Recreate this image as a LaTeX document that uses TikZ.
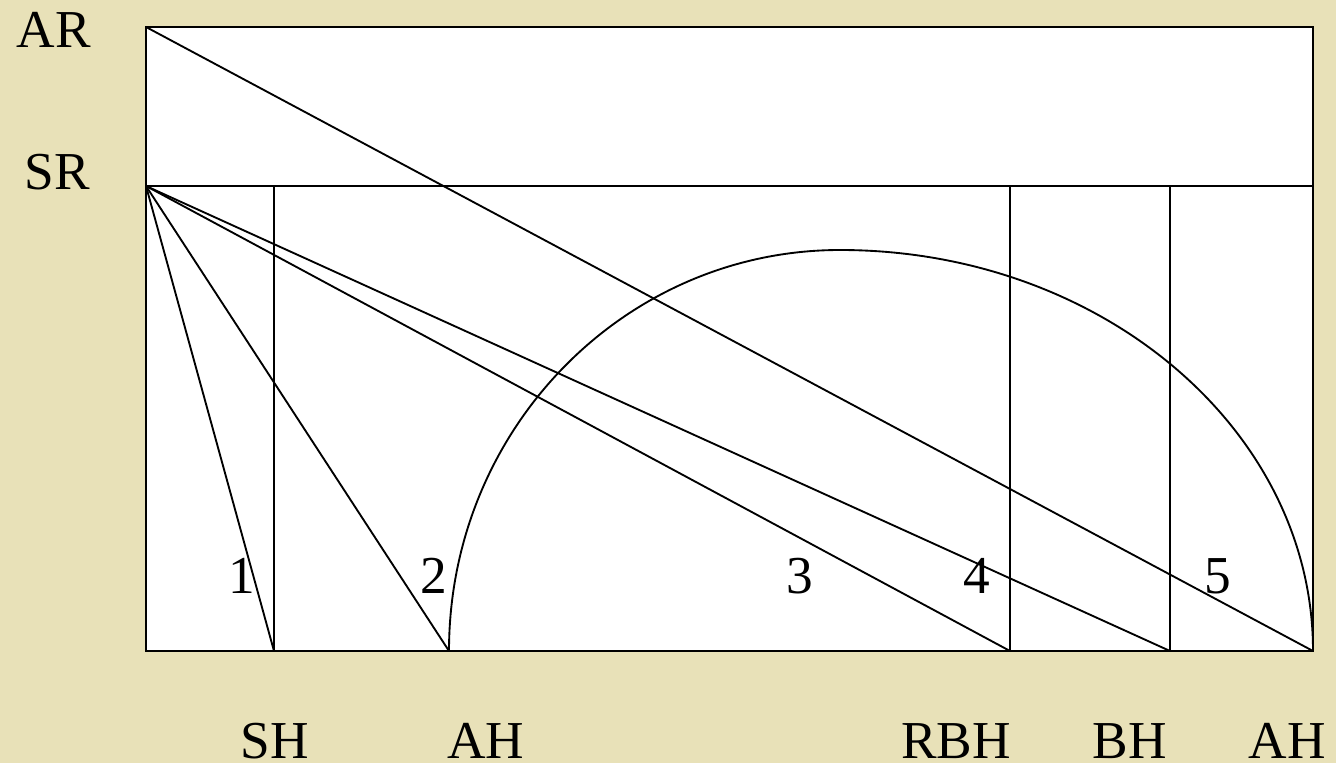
\documentclass[tikz,border=0pt]{standalone}
\usepackage{fontspec}
\setmainfont{Liberation Serif}
\usetikzlibrary{positioning}

\definecolor{parchment}{HTML}{E8E1B8}

\begin{document}
\begin{tikzpicture}
[
    x=0.75pt,
    y=-0.75pt,
    font=\fontsize{40}{48}\selectfont,
    edge/.style={
        draw=black,
        line width=1.4pt
    },
    lbl/.style={
        inner sep=0pt,
        anchor=base
    }
]


% =====================
% BACKGROUND
% =====================

\fill[parchment] (0,0) rectangle (1336,763);
\useasboundingbox (0,0) rectangle (1336,763);

\fill[white] (146,27) rectangle (1313,651);


% =====================
% POINTS
% =====================

\coordinate (ar) at (146,27);
\coordinate (sr) at (146,186);
\coordinate (tr) at (1313,27);
\coordinate (mr) at (1313,186);

\coordinate (shtop) at (274,186);
\coordinate (rbhtop) at (1010,186);
\coordinate (bhtop) at (1170,186);

\coordinate (base) at (146,651);
\coordinate (sh) at (274,651);
\coordinate (ah) at (449,651);
\coordinate (rbh) at (1010,651);
\coordinate (bh) at (1170,651);
\coordinate (ahend) at (1313,651);


% =====================
% FRAME
% =====================

\draw[edge]
(ar)
rectangle
(ahend);

\draw[edge]
(sr)
--
(mr);

\draw[edge] (shtop) -- (sh);
\draw[edge] (rbhtop) -- (rbh);
\draw[edge] (bhtop) -- (bh);


% =====================
% RAYS
% =====================

\draw[edge] (sr) -- (sh);
\draw[edge] (sr) -- (ah);
\draw[edge] (sr) -- (rbh);
\draw[edge] (sr) -- (bh);

\draw[edge]
(ar)
--
(ahend);


% =====================
% ARC
% =====================

\draw[edge]
(ah)
arc[start angle=180, end angle=90, x radius=293.25pt, y radius=300.75pt]
arc[start angle=90, end angle=0, x radius=354.75pt, y radius=300.75pt];


% =====================
% LABELS
% =====================

\node[lbl] (arlbl) at (54,48) {AR};
\node[lbl] (srlbl) at (57,190) {SR};

\node[lbl] (n1) at (242,593) {1};
\node[lbl] (n2) at (434,593) {2};
\node[lbl] (n3) at (800,593) {3};
\node[lbl] (n4) at (977,593) {4};
\node[lbl] (n5) at (1218,593) {5};

\node[lbl] (shlbl) at (275,758) {SH};
\node[lbl] (ahlbl) at (486,758) {AH};
\node[lbl] (rbhlbl) at (956,758) {RBH};
\node[lbl] (bhlbl) at (1130,758) {BH};
\node[lbl] (ahendlbl) at (1287,758) {AH};


\end{tikzpicture}
\end{document}
